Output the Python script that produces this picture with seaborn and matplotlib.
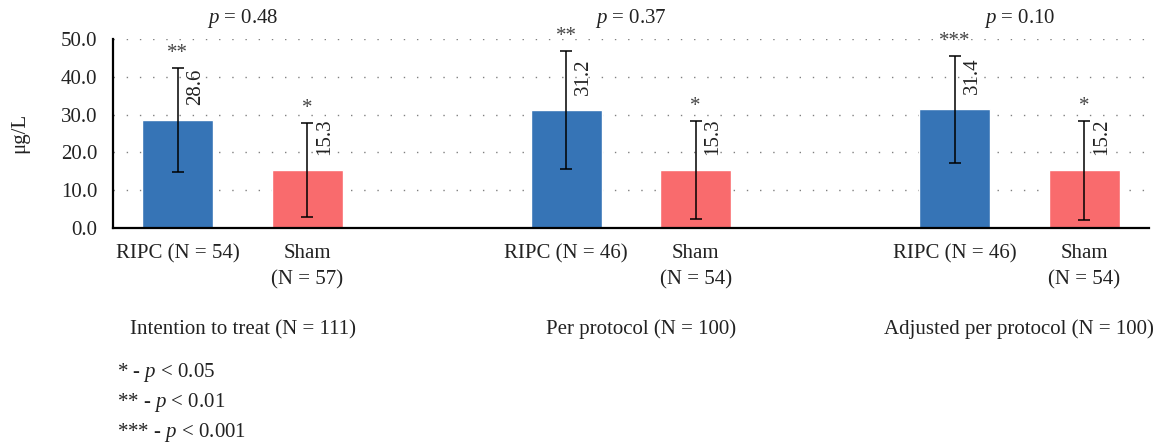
"""Troponin-style grouped bar chart: RIPC vs Sham across three analysis sets."""

import matplotlib.pyplot as plt
import pandas as pd
import seaborn as sns

# ── Data ─────────────────────────────────────────────────────────────
GROUPS = ["Intention to treat (N = 111)", "Per protocol (N = 100)",
          "Adjusted per protocol (N = 100)"]
P_VALUES = ["0.48", "0.37", "0.10"]
ARMS = ["RIPC", "Sham", "RIPC", "Sham", "RIPC", "Sham"]
ARM_LABELS = ["RIPC (N = 54)", "Sham\n(N = 57)", "RIPC (N = 46)", "Sham\n(N = 54)",
              "RIPC (N = 46)", "Sham\n(N = 54)"]
MEANS = [28.6, 15.3, 31.2, 15.3, 31.4, 15.2]
SDS = [13.8, 12.4, 15.7, 13.1, 14.2, 13.1]
STARS = ["**", "*", "**", "*", "***", "*"]
LEGEND = ["* - $p$ < 0.05", "** - $p$ < 0.01", "*** - $p$ < 0.001"]

# ── Styling ──────────────────────────────────────────────────────────
PALETTE = {"RIPC": "#3674b6", "Sham": "#f96b6d"}
FONT = "Liberation Serif"
FS = 15
TXT = "#222222"
GROUP_SHIFT = [0.0, 0.08, 0.0]  # caption offset, in bar slots

sns.set_style("white")
plt.rcParams["font.family"] = [FONT, "DejaVu Serif"]
plt.rcParams["mathtext.fontset"] = "custom"
plt.rcParams["mathtext.rm"] = FONT
plt.rcParams["mathtext.it"] = f"{FONT}:italic"

# Slot order: two bars per group and one empty slot between groups
keys = [f"{a}_{i // 2}" for i, a in enumerate(ARMS)]
order = keys[0:2] + ["gap_0"] + keys[2:4] + ["gap_1"] + keys[4:6]
df = pd.DataFrame({"slot": keys, "value": MEANS, "arm": ARMS, "sd": SDS})
pos = [order.index(k) for k in keys]

fig = plt.figure(figsize=(11.64, 4.45), dpi=100)
ax = fig.add_axes([0.0971, 0.4883, 0.8899, 0.4234])

sns.barplot(data=df, x="slot", y="value", hue="arm", order=order, palette=PALETTE,
            dodge=False, width=0.55, errorbar=None, legend=False, saturation=1, ax=ax)

ax.errorbar(pos, MEANS, yerr=SDS, fmt="none", ecolor="black", elinewidth=1.1,
            capsize=4.5, capthick=1.1, zorder=3)

for x, m, s, star in zip(pos, MEANS, SDS, STARS):
    ax.annotate(f"{m:.1f}", (x, m), xytext=(12.5, 11), textcoords="offset points",
                rotation=90, ha="center", va="bottom", fontsize=FS, color=TXT)
    ax.annotate(star, (x, m + s), xytext=(0, 3.5), textcoords="offset points",
                ha="center", va="bottom", fontsize=FS, color="#444444")

for g, (p, name) in enumerate(zip(P_VALUES, GROUPS)):
    xc = (pos[2 * g] + pos[2 * g + 1]) / 2
    ax.text(xc, 1.113, f"$p$ = {p}", transform=ax.get_xaxis_transform(),
            ha="center", va="center", fontsize=FS, color=TXT)
    ax.text(xc + GROUP_SHIFT[g], -0.54, name, transform=ax.get_xaxis_transform(),
            ha="center", va="center", fontsize=FS, color=TXT)

for i, line in enumerate(LEGEND):
    fig.text(0.1005, 1 - (373 + 29.5 * i) / 445, line, ha="left", va="center",
             fontsize=FS, color=TXT)

ax.set_xlim(-0.5, len(order) - 0.5)
ax.set_ylim(0, 50)
ax.set_yticks([0, 10, 20, 30, 40, 50])
ax.set_yticklabels([f"{v:.1f}" for v in [0, 10, 20, 30, 40, 50]], fontsize=FS, color=TXT)
ax.set_xticks(pos)
ax.set_xticklabels(ARM_LABELS, fontsize=FS, color=TXT)
for lbl in ax.get_xticklabels():
    lbl.set_linespacing(1.45)
ax.tick_params(axis="both", direction="out", length=4.5, width=1.2, color="black")
ax.tick_params(axis="x", pad=7.5)
ax.tick_params(axis="y", pad=7)

ax.set_xlabel("")
ax.set_ylabel("μg/L", fontsize=FS, color=TXT)
ax.yaxis.set_label_coords(-0.081, 0.503)

ax.yaxis.grid(True, color="#808080", linestyle=(0, (1, 8.5)), linewidth=1.0)
ax.xaxis.grid(False)
ax.set_axisbelow(True)
for side in ("top", "right"):
    ax.spines[side].set_visible(False)
for side in ("left", "bottom"):
    ax.spines[side].set_color("black")
    ax.spines[side].set_linewidth(1.6)

fig.savefig("out.png", dpi=100, facecolor="white")
